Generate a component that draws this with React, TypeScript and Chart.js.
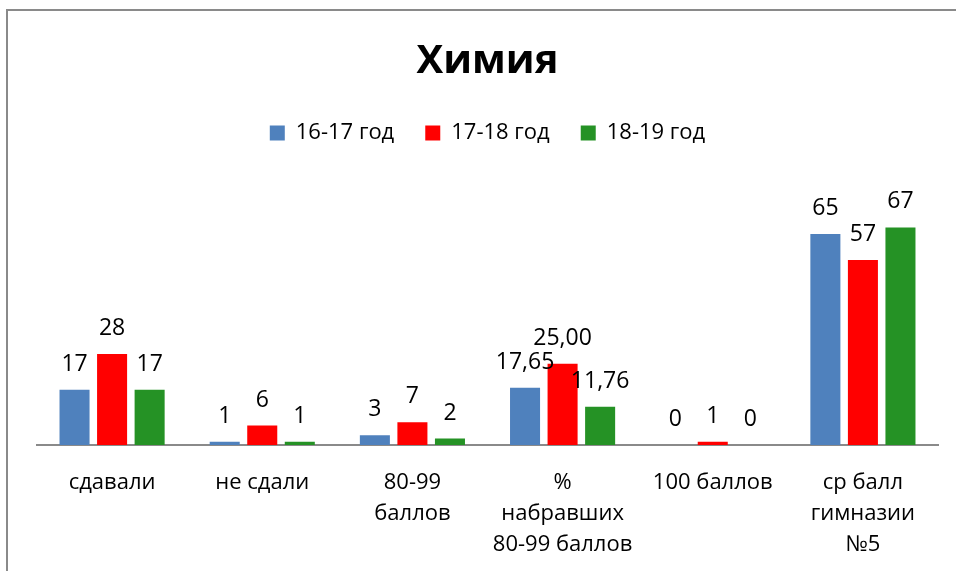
import React, { useEffect, useRef } from "react";
import { Chart, registerables } from "chart.js";

Chart.register(...registerables);

const categories: string[][] = [
  ["сдавали"],
  ["не сдали"],
  ["80-99", "баллов"],
  ["%", "набравших", "80-99 баллов"],
  ["100 баллов"],
  ["ср балл", "гимназии", "№5"],
];
const seriesNames = ["16-17 год", "17-18 год", "18-19 год"];
const values1617 = [17, 1, 3, 17.65, 0, 65];
const values1718 = [28, 6, 7, 25.0, 1, 57];
const values1819 = [17, 1, 2, 11.76, 0, 67];
const labelDecimals = [0, 0, 0, 2, 0, 0];
const colors = ["#4F81BD", "#FF0000", "#259225"];
const FONT = "'Open Sans', 'Noto Sans', sans-serif";

const dataLabelPlugin = {
  id: "dataLabels",
  afterDatasetsDraw(chart: any) {
    const ctx = chart.ctx;
    ctx.save();
    ctx.font = `23px ${FONT}`;
    ctx.fillStyle = "#000";
    ctx.textAlign = "center";
    ctx.textBaseline = "alphabetic";
    chart.data.datasets.forEach((ds: any, di: number) => {
      const meta = chart.getDatasetMeta(di);
      meta.data.forEach((el: any, i: number) => {
        const v = ds.data[i] as number;
        const txt = v.toFixed(labelDecimals[i]).replace(".", ",");
        ctx.fillText(txt, el.x, el.y - 19);
      });
    });
    ctx.restore();
  },
};

export default function App() {
  const ref = useRef<HTMLCanvasElement>(null);
  useEffect(() => {
    document.body.style.margin = "0";
    const chart = new Chart(ref.current!, {
      type: "bar",
      data: {
        labels: categories,
        datasets: [values1617, values1718, values1819].map((d, i) => ({
          label: seriesNames[i],
          data: d,
          backgroundColor: colors[i],
          borderWidth: 0,
          categoryPercentage: 0.75,
          barPercentage: 0.8,
        })),
      },
      options: {
        responsive: false,
        animation: false,
        layout: { padding: { left: 37, right: 18, bottom: 0, top: 0 } },
        plugins: {
          title: {
            display: true,
            text: "Химия",
            color: "#000",
            font: { family: FONT, size: 40, weight: "bold" },
            padding: { top: 38, bottom: 5 },
          },
          subtitle: {
            display: true,
            text: "",
            weight: 500,
            font: { size: 1 },
            padding: { top: 0, bottom: 30 },
          } as any,
          legend: {
            position: "top",
            labels: {
              boxWidth: 15,
              boxHeight: 15,
              padding: 31,
              color: "#000",
              font: { family: FONT, size: 22 },
            },
          },
          tooltip: { enabled: false },
        },
        scales: {
          x: {
            grid: { display: false },
            border: { display: true, color: "#8a8a8a", width: 2 },
            afterFit: (scale: any) => {
              scale.height = 126;
            },
            ticks: {
              color: "#000",
              padding: 14,
              maxRotation: 0,
              autoSkip: false,
              font: { family: FONT, size: 22, lineHeight: 1.42 },
            },
          },
          y: { display: false, min: 0, max: 80 },
        },
      },
      plugins: [dataLabelPlugin],
    });
    return () => chart.destroy();
  }, []);
  return (
    <div style={{ position: "fixed", left: 0, top: 0, width: 956, height: 571, overflow: "hidden", background: "#fff" }}>
      <div style={{ position: "absolute", left: 6, top: 9, width: 2000, height: 2000, borderLeft: "2px solid #8a8a8a", borderTop: "2px solid #8a8a8a" }} />
      <canvas ref={ref} width={956} height={571} style={{ position: "absolute", left: 0, top: 0 }} />
    </div>
  );
}
